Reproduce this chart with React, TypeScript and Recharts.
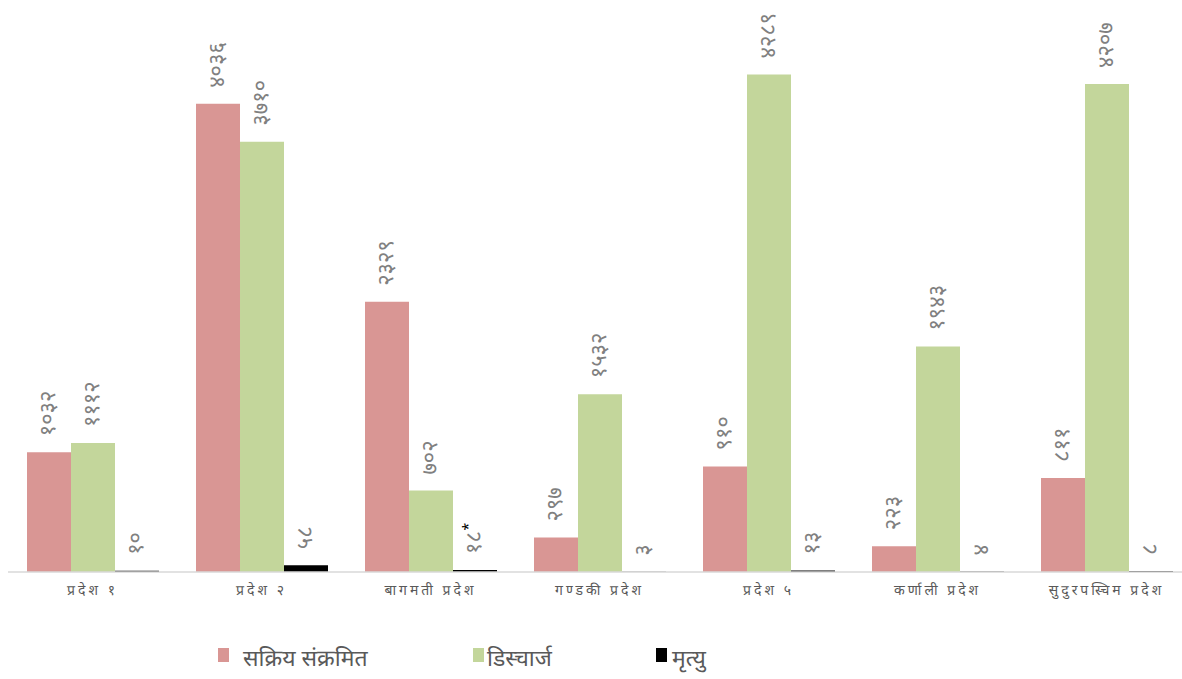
import { BarChart, Bar, XAxis, YAxis, Legend, LabelList } from 'recharts';

const categories = [
  'प्रदेश १',
  'प्रदेश २',
  'बागमती प्रदेश',
  'गण्डकी प्रदेश',
  'प्रदेश ५',
  'कर्णाली प्रदेश',
  'सुदुरपस्चिम प्रदेश',
];
const active = [1032, 4036, 2329, 297, 910, 223, 811];
const discharged = [1112, 3710, 702, 1532, 4289, 1943, 4207];
const deaths = [10, 58, 18, 3, 13, 4, 8];
const deathNotes = ['', '', '*', '', '', '', ''];

const seriesNames = ['सक्रिय संक्रमित', 'डिस्चार्ज', 'मृत्यु'];
const COLORS = ['#d99694', '#c3d69b', '#000000'];

const FONT = '"Noto Sans Devanagari", "Noto Sans", sans-serif';

const data = categories.map((name, i) => ({
  name,
  active: active[i],
  discharged: discharged[i],
  deaths: deaths[i],
}));

const toNepali = (n: number | string) =>
  String(n).replace(/\d/g, d => '०१२३४५६७८९'[Number(d)]);

function ValueLabel(props: any) {
  const { x, y, width, value, index, withNote } = props;
  const cx = Number(x) + Number(width) / 2;
  const ty = Number(y) - 16;
  const note = withNote ? deathNotes[index] : '';
  return (
    <text
      transform={`translate(${cx},${ty}) rotate(-90)`}
      textAnchor="start"
      dominantBaseline="central"
      fontSize={22}
      fontFamily={FONT}
      fill="#808080"
    >
      {toNepali(value)}
      {note && (
        <tspan fill="#000" fontSize={14} dy={-6}>
          {note}
        </tspan>
      )}
    </text>
  );
}

function CategoryTick(props: any) {
  const { x, y, payload } = props;
  return (
    <text
      x={x}
      y={Number(y) + 11}
      textAnchor="middle"
      dominantBaseline="central"
      fontSize={14}
      letterSpacing={3}
      fontFamily={FONT}
      fill="#595959"
    >
      {payload.value}
    </text>
  );
}

// legend items sit at fixed spots like the original slide
const legendSpots = [
  { box: 218, text: 243 },
  { box: 473, text: 487 },
  { box: 656, text: 672 },
];

function ChartLegend() {
  return (
    <div style={{ position: 'relative', height: 40, width: 1182 }}>
      {seriesNames.map((name, i) => (
        <div key={name}>
          <span
            style={{
              position: 'absolute',
              left: legendSpots[i].box,
              top: 11,
              width: 11,
              height: 14,
              background: COLORS[i],
            }}
          />
          <span
            style={{
              position: 'absolute',
              left: legendSpots[i].text,
              top: 3,
              lineHeight: '40px',
              fontSize: 23,
              fontFamily: FONT,
              color: '#595959',
              whiteSpace: 'nowrap',
            }}
          >
            {name}
          </span>
        </div>
      ))}
    </div>
  );
}

export default function App() {
  return (
    <div
      style={{
        position: 'absolute',
        left: 0,
        top: 0,
        width: 1182,
        height: 679,
        overflow: 'hidden',
        background: '#fff',
      }}
    >
      <BarChart
        width={1191}
        height={679}
        data={data}
        margin={{ top: 50, right: 0, left: 8, bottom: 2 }}
        barCategoryGap={19}
        barGap={0}
      >
        <XAxis
          dataKey="name"
          height={65}
          tickLine={false}
          axisLine={{ stroke: '#d9d9d9', strokeWidth: 1.5 }}
          tick={<CategoryTick />}
          interval={0}
        />
        <YAxis hide domain={[0, 4500]} />
        <Legend
          verticalAlign="bottom"
          wrapperStyle={{ left: 0, width: 1182 }}
          content={() => <ChartLegend />}
        />
        <Bar dataKey="active" name={seriesNames[0]} fill={COLORS[0]} isAnimationActive={false}>
          <LabelList dataKey="active" content={<ValueLabel />} />
        </Bar>
        <Bar dataKey="discharged" name={seriesNames[1]} fill={COLORS[1]} isAnimationActive={false}>
          <LabelList dataKey="discharged" content={<ValueLabel />} />
        </Bar>
        <Bar dataKey="deaths" name={seriesNames[2]} fill={COLORS[2]} isAnimationActive={false}>
          <LabelList dataKey="deaths" content={<ValueLabel withNote />} />
        </Bar>
      </BarChart>
    </div>
  );
}
